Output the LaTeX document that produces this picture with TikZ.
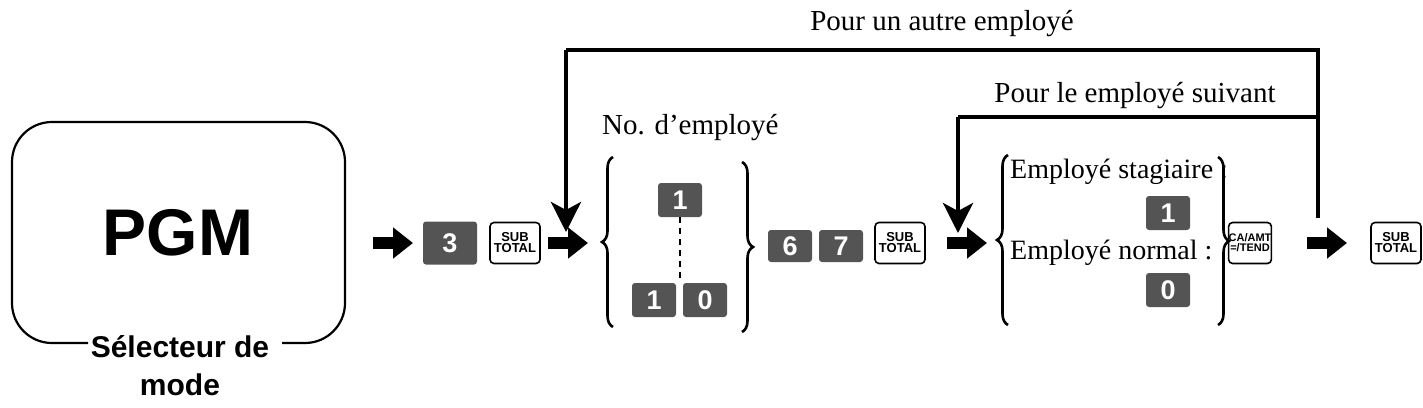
\documentclass[tikz,border=0pt]{standalone}
\usepackage{fontspec}
\setmainfont{Liberation Serif}
\setsansfont{Liberation Sans}
\usetikzlibrary{arrows.meta,decorations.pathreplacing}
\begin{document}
\begin{tikzpicture}[x=1pt,y=-1pt,
  dk/.style={fill=black!67,rounded corners=3pt,minimum width=44pt,minimum height=34pt,inner sep=0pt,text=white,font=\sffamily\bfseries\fontsize{27}{27}\selectfont},
  fk/.style={draw,line width=1.6pt,rounded corners=4pt,minimum width=50pt,minimum height=41pt,inner sep=0pt,align=center,font=\sffamily\bfseries\fontsize{13}{13}\selectfont},
  blk/.style={line width=12pt,-{Triangle[length=20pt,width=30pt]}},
  loop/.style={line width=4.5pt},
  down/.style={line width=4.5pt,-{Stealth[length=30pt,width=30pt,inset=8pt]}},
  br/.style={line width=2.6pt,decorate,decoration={brace,amplitude=11pt}},
  lbl/.style={font=\fontsize{29}{29}\selectfont,inner sep=0pt},
  elbl/.style={font=\fontsize{28}{28}\selectfont,inner sep=0pt,anchor=west}]
\useasboundingbox (0,0) rectangle (1423,407);
% mode box
\draw[line width=2.2pt] (88,343) -- (52,343) arc[start angle=270,end angle=180,radius=40pt] -- (12,162) arc[start angle=180,end angle=90,radius=40pt] -- (305,122) arc[start angle=90,end angle=0,radius=40pt] -- (345,303) arc[start angle=0,end angle=-90,radius=40pt] -- (282,343);
\node (pgm) at (178,233) {\sffamily\bfseries\fontsize{66}{66}\selectfont PGM};
\node[align=center,font=\sffamily\bfseries\fontsize{30}{38}\selectfont] (sel) at (180,366) {Sélecteur de\\mode};
% row
\coordinate (a1s) at (373,243); \coordinate (a1e) at (413,243);
\draw[blk] (a1s) -- (a1e);
\node[dk,minimum width=54pt,minimum height=43pt] (k3) at (450,243) {3};
\node[fk] (s1) at (515,243) {SUB\\[-2pt]TOTAL};
\coordinate (a2s) at (548,243); \coordinate (a2e) at (588,243);
\draw[blk] (a2s) -- (a2e);
\draw[br] (613,327) -- (613,157) coordinate (b1);
\node[lbl,anchor=west] (no) at (602,128) {No. d’employé};
\node[dk] (k1) at (680,200) {1};
\node[dk] (k10a) at (654,300) {1};
\node[dk] (k10b) at (705,300) {0};
\draw[line width=2.5pt,dash pattern=on 6pt off 5pt] (k1.south) -- (680,283);
\draw[br] (742,162) -- (742,332);
\node[dk,minimum height=32pt] (k6) at (790,246) {6};
\node[dk,minimum height=32pt] (k7) at (841,246) {7};
\node[fk] (s2) at (900,243) {SUB\\[-2pt]TOTAL};
\coordinate (a3s) at (947,243); \coordinate (a3e) at (987,243);
\draw[blk] (a3s) -- (a3e);
\draw[br] (1008,325) -- (1008,155);
\node[elbl] (st) at (1010,172) {Employé stagiaire :};
\node[dk] (kk1) at (1168,213) {1};
\node[elbl] (nm) at (1010,253) {Employé normal :};
\node[dk] (kk0) at (1168,290) {0};
\draw[br] (1218,157) -- (1218,325);
\node[fk,minimum width=36pt,font=\sffamily\bfseries\fontsize{11}{11}\selectfont] (ca) at (1250,243) {CA/AMT\\[-1pt]=/TEND};
\coordinate (a4s) at (1307,243); \coordinate (a4e) at (1347,243);
\draw[blk] (a4s) -- (a4e);
\node[fk] (s3) at (1396,243) {SUB\\[-2pt]TOTAL};
% loops
\coordinate (r0) at (1318,218);
\coordinate (t1) at (566,232);
\coordinate (t2) at (958,233);
\draw[loop] (r0) -- (1318,50) -- (566,50);
\draw[down] (566,50) -- (t1);
\draw[loop] (1318,117) -- (958,117);
\draw[down] (958,117) -- (t2);
\node[lbl] (l1) at (942,24) {Pour un autre employé};
\node[lbl] (l2) at (1135,96) {Pour le employé suivant};
\end{tikzpicture}
\end{document}
